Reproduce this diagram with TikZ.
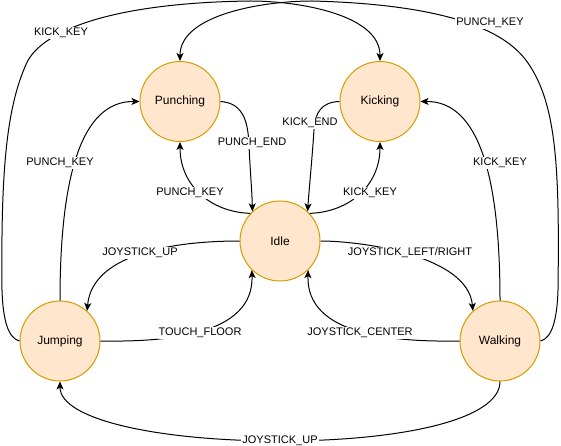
\documentclass[tikz,border=0pt]{standalone}
\usepackage{fontspec}
\setmainfont{Liberation Sans}
\usetikzlibrary{arrows.meta}
\definecolor{statefill}{HTML}{FFE6CC}
\definecolor{stateline}{HTML}{D79B00}
\begin{document}
\begin{tikzpicture}[x=1pt,y=-1pt,
  state/.style={circle, draw=stateline, fill=statefill, line width=1pt, minimum size=80pt, inner sep=0pt, font=\fontsize{12}{14}\selectfont},
  edge/.style={line width=1pt, -{Stealth[length=8pt,width=7pt,inset=2pt]}},
  lbl/.style={fill=white, inner xsep=1pt, inner ysep=1pt, text height=8pt, text depth=2.5pt, font=\fontsize{11}{13}\selectfont}]
\useasboundingbox (0,0) rectangle (561,446);
\node[state] (punch) at (180,101.5) {Punching};
\node[state] (kick) at (380,101.5) {Kicking};
\node[state] (idle) at (280,241) {Idle};
\node[state] (jump) at (60,341) {Jumping};
\node[state] (walk) at (500,341) {Walking};
% edges
\draw[edge] (punch.east) .. controls (245,103) and (248,125) .. (249,145) .. controls (250,170) and (252,190) .. (idle.133);
\draw[edge] (idle.137) .. controls (210,212) and (180,185) .. (punch.south);
\draw[edge] (kick.west) .. controls (322,102) and (315,112) .. (314,130) .. controls (312,160) and (309,190) .. (idle.47);
\draw[edge] (idle.43) .. controls (350,212) and (380,185) .. (kick.south);
\draw[edge] (idle.west) .. controls (170,241) and (92,255) .. (jump.48);
\draw[edge] (jump.east) .. controls (165,342) and (254,336) .. (idle.226);
\draw[edge] (idle.east) .. controls (360,241) and (468,255) .. (walk.132);
\draw[edge] (walk.west) .. controls (395,342) and (306,336) .. (idle.314);
\draw[edge] (walk.south) .. controls (500,420) and (400,441) .. (280,441) .. controls (160,441) and (60,420) .. (jump.south);
\draw[edge] (jump.north) .. controls (60,180) and (80,101) .. (punch.west);
\draw[edge] (walk.north) .. controls (500,180) and (480,101) .. (kick.east);
\draw[edge] (jump.west) .. controls (8,338) and (3,320) .. (2,290) .. controls (1,180) and (5,110) .. (26.7,63) .. controls (39.7,34.8) and (100,3) .. (250,1) .. controls (300,1) and (380,15) .. (kick.north);
\draw[edge] (walk.east) .. controls (552,338) and (557,320) .. (558,290) .. controls (559.5,170) and (557,105) .. (528,63) .. controls (512,40) and (470,5) .. (312,1) .. controls (262,1) and (180,15) .. (punch.north);
% labels
\node[lbl] (l1) at (252,143) {PUNCH\_END};
\node[lbl] (l2) at (190,193) {PUNCH\_KEY};
\node[lbl] (l3) at (310,123) {KICK\_END};
\node[lbl] (l4) at (370,193) {KICK\_KEY};
\node[lbl] (l5) at (140,253) {JOYSTICK\_UP};
\node[lbl] (l6) at (200,333) {TOUCH\_FLOOR};
\node[lbl] (l7) at (410,253) {JOYSTICK\_LEFT/RIGHT};
\node[lbl] (l8) at (360,333) {JOYSTICK\_CENTER};
\node[lbl] (l9) at (280,441) {JOYSTICK\_UP};
\node[lbl] (l10) at (60,163) {PUNCH\_KEY};
\node[lbl] (l11) at (500,163) {KICK\_KEY};
\node[lbl] (l12) at (61,33) {KICK\_KEY};
\node[lbl] (l13) at (490,23) {PUNCH\_KEY};
\end{tikzpicture}
\end{document}
